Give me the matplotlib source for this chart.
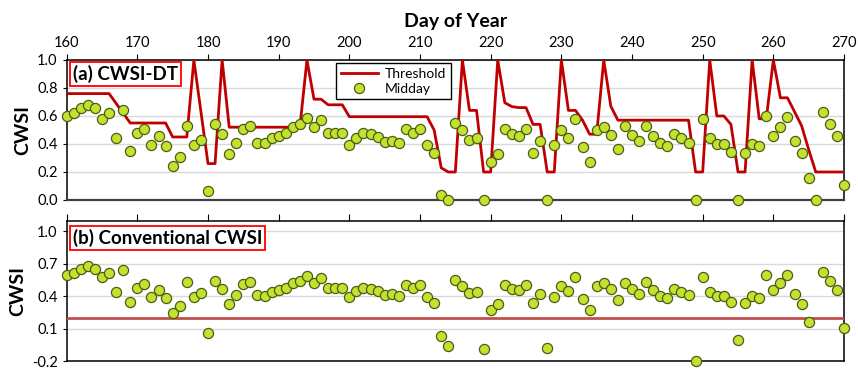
import numpy as np
import matplotlib
matplotlib.use('Agg')
import matplotlib.pyplot as plt

plt.rcParams['font.family'] = ['Lato', 'DejaVu Sans']

days = np.arange(160, 271)

# midday CWSI, one value per day (conventional, can go negative)
midday = [
  0.60, 0.62, 0.655, 0.68, 0.655, 0.58, 0.62, 0.44, 0.64, 0.35,
  0.48, 0.51, 0.39, 0.46, 0.385, 0.245, 0.31, 0.53, 0.39, 0.43,
  0.064, 0.54, 0.47, 0.33, 0.41, 0.51, 0.53, 0.41, 0.405, 0.44,
  0.457, 0.48, 0.52, 0.54, 0.585, 0.52, 0.57, 0.48, 0.48, 0.48,
  0.395, 0.445, 0.475, 0.47, 0.45, 0.415, 0.42, 0.405, 0.507, 0.476,
  0.507, 0.395, 0.336, 0.035, -0.055, 0.552, 0.50, 0.43, 0.443, -0.085,
  0.27, 0.326, 0.505, 0.47, 0.457, 0.507, 0.336, 0.42, -0.073, 0.395,
  0.50, 0.445, 0.576, 0.38, 0.27, 0.50, 0.52, 0.464, 0.364, 0.526,
  0.464, 0.42, 0.53, 0.457, 0.405, 0.386, 0.47, 0.44, 0.41, -0.20,
  0.578, 0.443, 0.40, 0.40, 0.345, 0.0, 0.338, 0.40, 0.386, 0.60,
  0.457, 0.524, 0.595, 0.42, 0.333, 0.16, -0.30, 0.626, 0.543, 0.455,
  0.107,
]

# dynamic threshold (CWSI-DT)
threshold = [
  0.76, 0.76, 0.76, 0.76, 0.76, 0.76, 0.76, 0.69, 0.62, 0.55,
  0.55, 0.55, 0.55, 0.55, 0.55, 0.45, 0.45, 0.45, 1.0, 0.63,
  0.26, 0.26, 1.0, 0.52, 0.52, 0.52, 0.52, 0.52, 0.52, 0.52,
  0.52, 0.52, 0.52, 0.52, 1.0, 0.72, 0.72, 0.68, 0.68, 0.68,
  0.595, 0.595, 0.595, 0.595, 0.595, 0.595, 0.595, 0.595, 0.595, 0.595,
  0.595, 0.595, 0.50, 0.23, 0.20, 0.20, 1.0, 0.64, 0.64, 0.20,
  0.20, 1.0, 0.695, 0.667, 0.66, 0.66, 0.54, 0.54, 0.20, 0.20,
  1.0, 0.64, 0.64, 0.57, 0.47, 0.47, 1.0, 0.67, 0.57, 0.57,
  0.57, 0.57, 0.57, 0.57, 0.57, 0.57, 0.57, 0.57, 0.57, 0.20,
  0.20, 1.0, 0.60, 0.60, 0.54, 0.20, 0.20, 1.0, 0.58, 0.58,
  1.0, 0.73, 0.73, 0.63, 0.53, 0.36, 0.20, 0.20, 0.20, 0.20,
  0.20,
]

conventional_threshold = 0.2

midday = np.array(midday)
face = '#c3e22e'
edge = '#4a5c16'
grid_c = '#d9d9d9'

fig = plt.figure(figsize=(8.58, 3.69), dpi=100)
ax1 = fig.add_axes([0.0777, 0.458, 0.906, 0.3794])
ax2 = fig.add_axes([0.0777, 0.021, 0.906, 0.381])

# (a) CWSI-DT
ax1.plot(days, threshold, color='#c00000', lw=2, label='Threshold', zorder=3)
ax1.plot(days, np.clip(midday, 0, 1), 'o', ms=7.3, mfc=face, mec=edge, mew=0.9,
         label='Midday', clip_on=False, zorder=4)
ax1.set_ylim(0, 1.0)
ax1.set_yticks(np.arange(0, 1.01, 0.2))
ax1.set_yticklabels([f'{v:.1f}' for v in np.arange(0, 1.01, 0.2)])
ax1.set_ylabel('CWSI', fontsize=14, fontweight='bold', labelpad=4)
ax1.xaxis.set_label_position('top')
ax1.set_xlabel('Day of Year', fontsize=14, fontweight='bold', labelpad=6)
ax1.legend(loc='upper left', bbox_to_anchor=(0.347, 0.976), fontsize=10,
           frameon=True, fancybox=False, edgecolor='black', framealpha=1,
           borderaxespad=0, handlelength=2.7, borderpad=0.3, labelspacing=0.25,
           handletextpad=0.5)
ax1.text(0.008, 0.965, '(a) CWSI-DT', transform=ax1.transAxes, fontsize=13.5,
         fontweight='bold', va='top', ha='left', zorder=5,
         bbox=dict(boxstyle='square,pad=0.15', fc='white', ec='#ff0000', lw=1.3))

# (b) conventional CWSI
ax2.axhline(conventional_threshold, color='#c0504d', lw=2, zorder=3)
vis = midday >= -0.2
ax2.plot(days[vis], midday[vis], 'o', ms=7.3, mfc=face, mec=edge, mew=0.9,
         clip_on=False, zorder=4)
ax2.set_ylim(-0.2, 1.1)
yt = [-0.2, 0.1, 0.4, 0.7, 1.0]
ax2.set_yticks(yt)
ax2.set_yticklabels([f'{v:.1f}' for v in yt])
ax2.set_ylabel('CWSI', fontsize=14, fontweight='bold', labelpad=4)
ax2.text(0.008, 0.94, '(b) Conventional CWSI', transform=ax2.transAxes,
         fontsize=13.5, fontweight='bold', va='top', ha='left', zorder=5,
         bbox=dict(boxstyle='square,pad=0.15', fc='white', ec='#ff0000', lw=1.3))

for ax in (ax1, ax2):
  ax.set_xlim(160, 270)
  ax.set_xticks(np.arange(160, 271, 10))
  ax.tick_params(axis='x', top=True, bottom=False, labeltop=True,
                 labelbottom=False, direction='out', length=4, labelsize=10.5)
  ax.tick_params(axis='y', direction='out', length=3, labelsize=10.5)
  ax.grid(axis='y', color=grid_c, lw=1)
  ax.set_axisbelow(True)
  for s in ax.spines.values():
    s.set_color('black')
    s.set_linewidth(1.1)

ax2.tick_params(axis='x', labeltop=False, length=5)
ax1.spines['bottom'].set_color('#404040')
ax1.spines['bottom'].set_linewidth(1.6)

plt.savefig('out.png', dpi=100)
